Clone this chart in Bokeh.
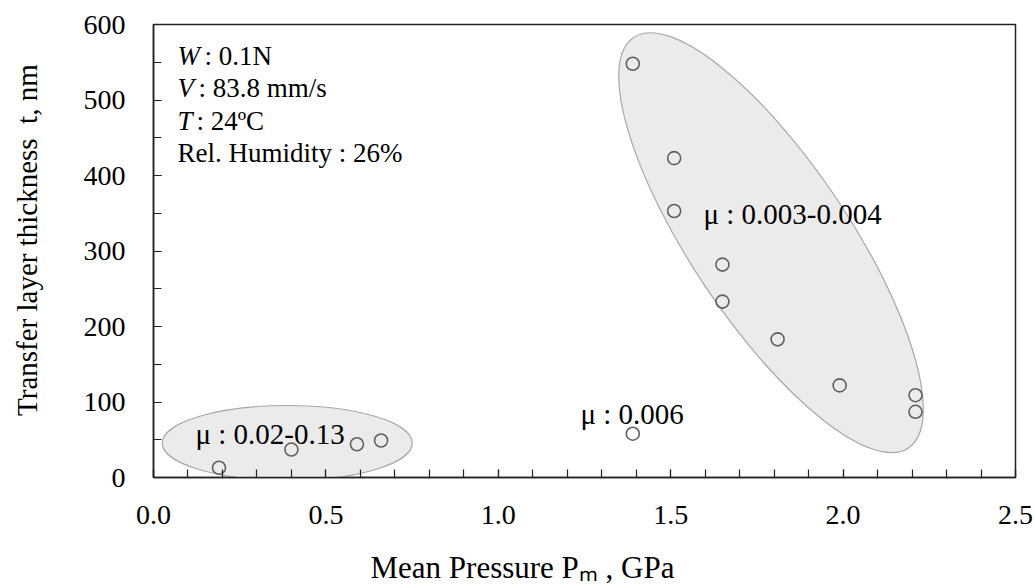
import math
from bokeh.plotting import figure
from bokeh.models import Label, Range1d, FixedTicker, NumeralTickFormatter
from bokeh.embed import file_html
from bokeh.resources import INLINE

# Mean contact pressure (GPa) and transfer layer thickness (nm)
low_p = [0.19, 0.40, 0.59, 0.66]
low_t = [13, 37, 44, 49]

mid_p = [1.39]
mid_t = [58]

high_p = [1.39, 1.51, 1.51, 1.65, 1.65, 1.81, 1.99, 2.21, 2.21]
high_t = [548, 423, 353, 282, 233, 183, 122, 109, 87]

x_ticks = [0.0, 0.5, 1.0, 1.5, 2.0, 2.5]
y_ticks = [0, 100, 200, 300, 400, 500, 600]

x_title = "Mean Pressure P\u2098 , GPa"
y_title = "Transfer layer thickness\u00a0\u00a0t, nm"

conditions = ["W", "V", "T"]
condition_values = [": 0.1N", ": 83.8 mm/s", ": 24\u00baC"]
humidity_text = "Rel. Humidity : 26%"

mu_texts = ["\u03bc : 0.02-0.13", "\u03bc : 0.006", "\u03bc : 0.003-0.004"]

SERIF = "Liberation Serif"
W, H = 1035, 588
LEFT, RIGHT, TOP, BOTTOM = 153, 20, 24, 111
NBSP = "\u00a0"

p = figure(width=W, height=H, output_backend="svg", toolbar_location=None,
           x_range=Range1d(0, 2.5), y_range=Range1d(0, 600),
           min_border_left=LEFT, min_border_right=RIGHT,
           min_border_top=TOP, min_border_bottom=BOTTOM)
p.background_fill_color = "white"
p.border_fill_color = "white"
p.outline_line_color = "#222222"
p.outline_line_width = 1.5
p.xgrid.visible = False
p.ygrid.visible = False

# axes: inward ticks, every 0.1 GPa and every 50 nm
for ax in (p.xaxis[0], p.yaxis[0]):
    ax.axis_line_color = "#222222"
    ax.axis_line_width = 1.5
    ax.major_tick_in = 8
    ax.major_tick_out = 0
    ax.minor_tick_in = 8
    ax.minor_tick_out = 0
    ax.major_tick_line_color = "#222222"
    ax.minor_tick_line_color = "#222222"
    ax.major_tick_line_width = 1.2
    ax.minor_tick_line_width = 1.2
    ax.major_label_text_font = SERIF
    ax.major_label_text_font_size = "28px"
    ax.major_label_text_color = "black"
    ax.axis_label_text_font = SERIF
    ax.axis_label_text_font_style = "normal"
    ax.axis_label_text_color = "black"

p.xaxis.ticker = FixedTicker(ticks=x_ticks,
                             minor_ticks=[i / 10 for i in range(0, 26)])
p.xaxis.formatter = NumeralTickFormatter(format="0.0")
p.xaxis.major_label_standoff = 28
# trailing padding pulls the centred title to the left
p.xaxis.axis_label = x_title + NBSP * 16
p.xaxis.axis_label_text_font_size = "31px"
p.xaxis.axis_label_standoff = 23

p.yaxis.ticker = FixedTicker(ticks=y_ticks,
                             minor_ticks=list(range(0, 601, 50)))
p.yaxis.major_label_standoff = 28
# leading padding lifts the centred title
p.yaxis.axis_label = NBSP * 3 + y_title
p.yaxis.axis_label_text_font_size = "29px"
p.yaxis.axis_label_standoff = 38

# group envelopes
p.ellipse(x=0.388, y=45.7, width=250, height=75, width_units="screen",
          height_units="screen", fill_color="#ebebeb", line_color="#a8a8a8",
          line_width=1.2)
p.ellipse(x=1.791, y=311, width=494, height=158, width_units="screen",
          height_units="screen", angle=math.radians(-56.2),
          fill_color="#ebebeb", line_color="#a8a8a8", line_width=1.2)

# measured points
for xs, ys in ((low_p, low_t), (mid_p, mid_t), (high_p, high_t)):
    p.scatter(xs, ys, marker="circle", size=13, fill_color=None,
              line_color="#606060", line_width=1.6)


def screen_label(text, sx, sy, size, **kw):
    """Place text at canvas pixel (sx, sy), measured from the top-left."""
    p.add_layout(Label(x=sx - LEFT, y=(H - BOTTOM) - sy, x_units="screen",
                       y_units="screen", text=text, text_font=SERIF,
                       text_font_size=size, text_color="black",
                       text_baseline="alphabetic", **kw))


# test conditions
baselines = [55, 87, 120]
offsets = [204, 198, 196]
for letter, val, by, ox in zip(conditions, condition_values, baselines, offsets):
    screen_label(letter, 177, by, "27px", text_font_style="italic")
    screen_label(val, ox, by, "27px")
screen_label(humidity_text, 177, 152, "27px")

# friction coefficient ranges
screen_label(mu_texts[0], 195, 433, "29px")
screen_label(mu_texts[1], 580, 413, "29px")
screen_label(mu_texts[2], 703, 213, "29px")

with open("out.html", "w") as f:
    f.write(file_html(p, INLINE))
